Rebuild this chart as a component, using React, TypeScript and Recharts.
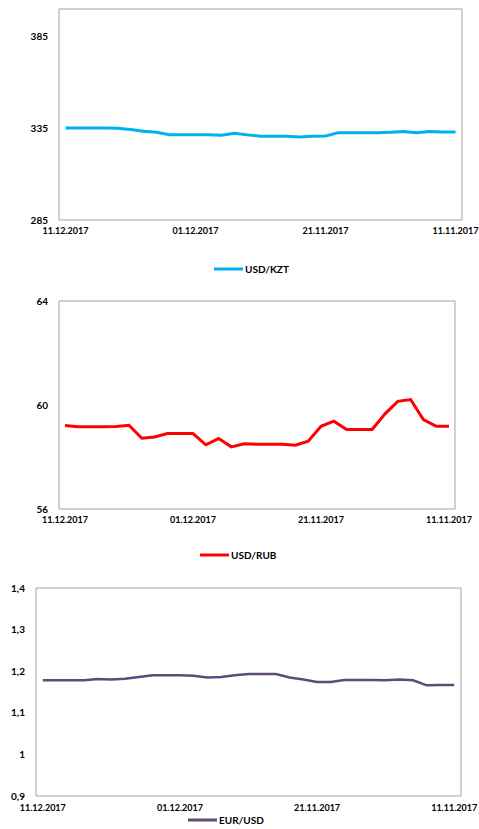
import React from 'react'
import { LineChart, Line, XAxis, YAxis, CartesianGrid, Legend } from 'recharts'

const DATES = [
  '11.12.2017', '10.12.2017', '09.12.2017', '08.12.2017', '07.12.2017', '06.12.2017',
  '05.12.2017', '04.12.2017', '03.12.2017', '02.12.2017', '01.12.2017', '30.11.2017',
  '29.11.2017', '28.11.2017', '27.11.2017', '26.11.2017', '25.11.2017', '24.11.2017',
  '23.11.2017', '22.11.2017', '21.11.2017', '20.11.2017', '19.11.2017', '18.11.2017',
  '17.11.2017', '16.11.2017', '15.11.2017', '14.11.2017', '13.11.2017', '12.11.2017',
  '11.11.2017',
]

const USD_KZT = [
  335.2, 335.2, 335.2, 335.2, 335.0, 334.3, 333.4, 332.8, 331.5, 331.5, 331.5, 331.5,
  331.2, 332.3, 331.4, 330.6, 330.6, 330.6, 330.3, 330.6, 330.8, 332.6, 332.6, 332.6,
  332.6, 332.8, 333.2, 332.6, 333.2, 333.0, 333.0,
]

const USD_RUB = [
  59.21, 59.16, 59.16, 59.16, 59.17, 59.22, 58.72, 58.77, 58.9, 58.9, 58.9, 58.47,
  58.71, 58.39, 58.51, 58.49, 58.49, 58.49, 58.45, 58.61, 59.18, 59.38, 59.06, 59.06,
  59.06, 59.66, 60.14, 60.21, 59.44, 59.18, 59.18,
]

const EUR_USD = [
  1.178, 1.178, 1.178, 1.178, 1.181, 1.18, 1.182, 1.186, 1.19, 1.19, 1.19, 1.189,
  1.185, 1.186, 1.19, 1.193, 1.193, 1.193, 1.185, 1.18, 1.174, 1.174, 1.179, 1.179,
  1.179, 1.178, 1.18, 1.178, 1.166, 1.167, 1.167,
]

const KZT_TICKS = [285, 335, 385]
const RUB_TICKS = [56, 60, 64]
const EUR_TICKS = [0.9, 1, 1.1, 1.2, 1.3, 1.4]

const FONT = 'Lato, "Open Sans", sans-serif'
const BORDER = '#a3a3a3'

interface RateChartProps {
  name: string
  values: number[]
  color: string
  strokeWidth: number
  domain: [number, number]
  ticks: number[]
  top: number
  height: number
  margin: { top: number; right: number; bottom: number; left: number }
  yWidth: number
  xHeight: number
  xPad: number
  xTickMargin: number
  legendTop: number
  legendLeft: number
  formatY?: (v: number) => string
}

function RateChart(p: RateChartProps) {
  const data = DATES.map((d, i) => ({ date: d, value: p.values[i] }))

  const legendContent = () => (
    <div style={{ display: 'flex', alignItems: 'center', height: 14, fontFamily: FONT }}>
      <svg width={29} height={4} style={{ display: 'block' }}>
        <line x1={0} y1={2} x2={29} y2={2} stroke={p.color} strokeWidth={3} />
      </svg>
      <span style={{ marginLeft: 2, fontSize: 10, fontWeight: 700, color: '#000' }}>{p.name}</span>
    </div>
  )

  return (
    <div style={{ position: 'absolute', left: 0, top: p.top }}>
      <LineChart width={479} height={p.height} data={data} margin={p.margin}>
        <CartesianGrid
          stroke={BORDER}
          horizontalCoordinatesGenerator={({ offset }: any) => [offset.top, offset.top + offset.height]}
          verticalCoordinatesGenerator={({ offset }: any) => [offset.left, offset.left + offset.width]}
        />
        <XAxis
          dataKey="date"
          interval={9}
          axisLine={false}
          tickLine={false}
          tickSize={0}
          tickMargin={p.xTickMargin}
          height={p.xHeight}
          padding={{ left: p.xPad, right: p.xPad }}
          tick={{ fontSize: 9, fontWeight: 700, fill: '#000', fontFamily: FONT }}
        />
        <YAxis
          domain={p.domain}
          ticks={p.ticks}
          interval={0}
          allowDataOverflow
          axisLine={false}
          tickLine={false}
          tickSize={0}
          tickMargin={11}
          width={p.yWidth}
          tickFormatter={p.formatY}
          tick={{ fontSize: 10, fontWeight: 700, fill: '#000', fontFamily: FONT }}
        />
        <Legend
          layout="horizontal"
          verticalAlign="middle"
          align="center"
          wrapperStyle={{ top: p.legendTop, left: p.legendLeft, width: 'auto' }}
          content={legendContent}
        />
        <Line
          type="linear"
          dataKey="value"
          name={p.name}
          stroke={p.color}
          strokeWidth={p.strokeWidth}
          dot={false}
          activeDot={false}
          isAnimationActive={false}
        />
      </LineChart>
    </div>
  )
}

export default function App() {
  return (
    <div style={{ position: 'absolute', left: 0, top: 0, width: 479, height: 829, overflow: 'hidden', fontFamily: FONT }}>
      <RateChart
        name="USD/KZT"
        values={USD_KZT}
        color="#00b0f0"
        strokeWidth={3}
        domain={[285, 400]}
        ticks={KZT_TICKS}
        top={0}
        height={280}
        margin={{ top: 9, right: 17, bottom: 30, left: 0 }}
        yWidth={59}
        xHeight={30}
        xPad={6.5}
        xTickMargin={8}
        legendTop={262}
        legendLeft={214}
      />
      <RateChart
        name="USD/RUB"
        values={USD_RUB}
        color="#ff0000"
        strokeWidth={3}
        domain={[56, 64]}
        ticks={RUB_TICKS}
        top={280}
        height={280}
        margin={{ top: 21, right: 24, bottom: 21, left: 0 }}
        yWidth={59}
        xHeight={30}
        xPad={6}
        xTickMargin={8}
        legendTop={268}
        legendLeft={200}
      />
      <RateChart
        name="EUR/USD"
        values={EUR_USD}
        color="#604a7b"
        strokeWidth={2.5}
        domain={[0.9, 1.4]}
        ticks={EUR_TICKS}
        top={560}
        height={269}
        margin={{ top: 28, right: 18, bottom: 13, left: 0 }}
        yWidth={36}
        xHeight={20}
        xPad={6.8}
        xTickMargin={9}
        legendTop={253}
        legendLeft={188}
        formatY={(v: number) => String(v).replace('.', ',')}
      />
    </div>
  )
}
